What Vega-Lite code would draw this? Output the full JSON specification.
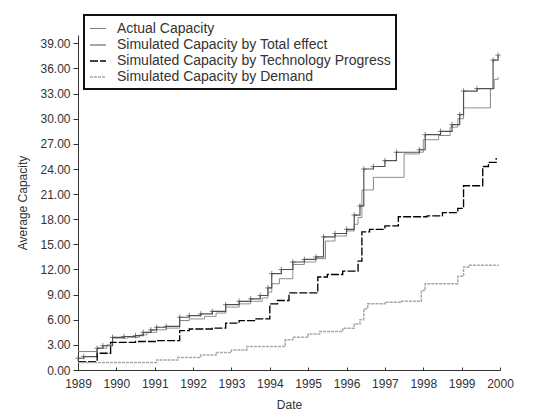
{
  "$schema": "https://vega.github.io/schema/vega-lite/v6.json",
  "width": 422,
  "height": 335,
  "autosize": "none",
  "padding": {"left": 78, "top": 35, "right": 33, "bottom": 50},
  "background": "white",
  "config": {
    "view": {"stroke": null},
    "font": "Liberation Sans",
    "axis": {
      "domainColor": "#333",
      "tickColor": "#333",
      "labelColor": "#333",
      "titleColor": "#333",
      "labelFont": "Liberation Sans",
      "titleFont": "Liberation Sans",
      "labelFontSize": 12,
      "titleFontSize": 12,
      "titleFontWeight": "normal",
      "grid": false,
      "tickSize": 5,
      "labelPadding": 3,
      "labelOverlap": false,
      "labelFlush": false
    },
    "legend": {
      "orient": "none",
      "legendX": 6,
      "legendY": -20,
      "strokeColor": "#111",
      "strokeWidth": 2,
      "padding": 5,
      "labelFont": "Liberation Sans",
      "labelFontSize": 14,
      "labelColor": "#333",
      "symbolType": "stroke",
      "symbolSize": 256,
      "rowPadding": 0,
      "labelOffset": 10,
      "labelLimit": 400
    }
  },
  "data": {
    "values": [
      {"series": "Actual Capacity", "year": 1989.0, "capacity": 2.2},
      {"series": "Actual Capacity", "year": 1989.5, "capacity": 2.6},
      {"series": "Actual Capacity", "year": 1989.75, "capacity": 3.0},
      {"series": "Actual Capacity", "year": 1989.9, "capacity": 3.8},
      {"series": "Actual Capacity", "year": 1990.3, "capacity": 3.9},
      {"series": "Actual Capacity", "year": 1990.6, "capacity": 4.2},
      {"series": "Actual Capacity", "year": 1990.8, "capacity": 4.5},
      {"series": "Actual Capacity", "year": 1991.05, "capacity": 4.8},
      {"series": "Actual Capacity", "year": 1991.3, "capacity": 5.0},
      {"series": "Actual Capacity", "year": 1991.65, "capacity": 5.9},
      {"series": "Actual Capacity", "year": 1991.9, "capacity": 6.1},
      {"series": "Actual Capacity", "year": 1992.3, "capacity": 6.4},
      {"series": "Actual Capacity", "year": 1992.6, "capacity": 6.8},
      {"series": "Actual Capacity", "year": 1992.85, "capacity": 7.5},
      {"series": "Actual Capacity", "year": 1993.2, "capacity": 7.9},
      {"series": "Actual Capacity", "year": 1993.5, "capacity": 8.2},
      {"series": "Actual Capacity", "year": 1993.8, "capacity": 8.6},
      {"series": "Actual Capacity", "year": 1993.95, "capacity": 9.3},
      {"series": "Actual Capacity", "year": 1994.05, "capacity": 10.3},
      {"series": "Actual Capacity", "year": 1994.25, "capacity": 10.9},
      {"series": "Actual Capacity", "year": 1994.6, "capacity": 12.6},
      {"series": "Actual Capacity", "year": 1994.9, "capacity": 12.9},
      {"series": "Actual Capacity", "year": 1995.2, "capacity": 13.3},
      {"series": "Actual Capacity", "year": 1995.45, "capacity": 15.4},
      {"series": "Actual Capacity", "year": 1995.7, "capacity": 16.0},
      {"series": "Actual Capacity", "year": 1996.0, "capacity": 16.6},
      {"series": "Actual Capacity", "year": 1996.2, "capacity": 17.4},
      {"series": "Actual Capacity", "year": 1996.3, "capacity": 18.2},
      {"series": "Actual Capacity", "year": 1996.4, "capacity": 21.5},
      {"series": "Actual Capacity", "year": 1996.7, "capacity": 23.0},
      {"series": "Actual Capacity", "year": 1997.5, "capacity": 25.8},
      {"series": "Actual Capacity", "year": 1997.9, "capacity": 26.0},
      {"series": "Actual Capacity", "year": 1998.0, "capacity": 27.5},
      {"series": "Actual Capacity", "year": 1998.4, "capacity": 28.0},
      {"series": "Actual Capacity", "year": 1998.7, "capacity": 29.0},
      {"series": "Actual Capacity", "year": 1998.9, "capacity": 30.0},
      {"series": "Actual Capacity", "year": 1999.05, "capacity": 31.3},
      {"series": "Actual Capacity", "year": 1999.75, "capacity": 33.6},
      {"series": "Actual Capacity", "year": 1999.85, "capacity": 34.7},
      {"series": "Actual Capacity", "year": 1999.95, "capacity": 35.0},

      {"series": "Simulated Capacity by Total effect", "year": 1989.0, "capacity": 1.4},
      {"series": "Simulated Capacity by Total effect", "year": 1989.15, "capacity": 1.6},
      {"series": "Simulated Capacity by Total effect", "year": 1989.5, "capacity": 2.6},
      {"series": "Simulated Capacity by Total effect", "year": 1989.65, "capacity": 2.9},
      {"series": "Simulated Capacity by Total effect", "year": 1989.9, "capacity": 3.9},
      {"series": "Simulated Capacity by Total effect", "year": 1990.2, "capacity": 4.0},
      {"series": "Simulated Capacity by Total effect", "year": 1990.5, "capacity": 4.1},
      {"series": "Simulated Capacity by Total effect", "year": 1990.7, "capacity": 4.5},
      {"series": "Simulated Capacity by Total effect", "year": 1990.9, "capacity": 4.8},
      {"series": "Simulated Capacity by Total effect", "year": 1991.05, "capacity": 5.1},
      {"series": "Simulated Capacity by Total effect", "year": 1991.3, "capacity": 5.2},
      {"series": "Simulated Capacity by Total effect", "year": 1991.65, "capacity": 6.3},
      {"series": "Simulated Capacity by Total effect", "year": 1991.9, "capacity": 6.5},
      {"series": "Simulated Capacity by Total effect", "year": 1992.2, "capacity": 6.7},
      {"series": "Simulated Capacity by Total effect", "year": 1992.5, "capacity": 7.0},
      {"series": "Simulated Capacity by Total effect", "year": 1992.85, "capacity": 7.8},
      {"series": "Simulated Capacity by Total effect", "year": 1993.2, "capacity": 8.2},
      {"series": "Simulated Capacity by Total effect", "year": 1993.5, "capacity": 8.5},
      {"series": "Simulated Capacity by Total effect", "year": 1993.75, "capacity": 8.9},
      {"series": "Simulated Capacity by Total effect", "year": 1993.95, "capacity": 9.8},
      {"series": "Simulated Capacity by Total effect", "year": 1994.05, "capacity": 11.5},
      {"series": "Simulated Capacity by Total effect", "year": 1994.3, "capacity": 12.0},
      {"series": "Simulated Capacity by Total effect", "year": 1994.6, "capacity": 12.9},
      {"series": "Simulated Capacity by Total effect", "year": 1994.9, "capacity": 13.2},
      {"series": "Simulated Capacity by Total effect", "year": 1995.2, "capacity": 13.5},
      {"series": "Simulated Capacity by Total effect", "year": 1995.4, "capacity": 15.9},
      {"series": "Simulated Capacity by Total effect", "year": 1995.7, "capacity": 16.3},
      {"series": "Simulated Capacity by Total effect", "year": 1996.0, "capacity": 16.8},
      {"series": "Simulated Capacity by Total effect", "year": 1996.2, "capacity": 18.5},
      {"series": "Simulated Capacity by Total effect", "year": 1996.35, "capacity": 19.6},
      {"series": "Simulated Capacity by Total effect", "year": 1996.45, "capacity": 24.0},
      {"series": "Simulated Capacity by Total effect", "year": 1996.7, "capacity": 24.3},
      {"series": "Simulated Capacity by Total effect", "year": 1997.0, "capacity": 25.0},
      {"series": "Simulated Capacity by Total effect", "year": 1997.3, "capacity": 26.0},
      {"series": "Simulated Capacity by Total effect", "year": 1997.9, "capacity": 26.3},
      {"series": "Simulated Capacity by Total effect", "year": 1998.05, "capacity": 28.1},
      {"series": "Simulated Capacity by Total effect", "year": 1998.45, "capacity": 28.5},
      {"series": "Simulated Capacity by Total effect", "year": 1998.75, "capacity": 29.3},
      {"series": "Simulated Capacity by Total effect", "year": 1998.95, "capacity": 30.5},
      {"series": "Simulated Capacity by Total effect", "year": 1999.05, "capacity": 33.3},
      {"series": "Simulated Capacity by Total effect", "year": 1999.4, "capacity": 33.6},
      {"series": "Simulated Capacity by Total effect", "year": 1999.82, "capacity": 37.0},
      {"series": "Simulated Capacity by Total effect", "year": 1999.95, "capacity": 37.6},

      {"series": "Simulated Capacity by Technology Progress", "year": 1989.0, "capacity": 1.0},
      {"series": "Simulated Capacity by Technology Progress", "year": 1989.5, "capacity": 2.0},
      {"series": "Simulated Capacity by Technology Progress", "year": 1989.85, "capacity": 3.3},
      {"series": "Simulated Capacity by Technology Progress", "year": 1990.5, "capacity": 3.4},
      {"series": "Simulated Capacity by Technology Progress", "year": 1991.05, "capacity": 3.5},
      {"series": "Simulated Capacity by Technology Progress", "year": 1991.65, "capacity": 4.7},
      {"series": "Simulated Capacity by Technology Progress", "year": 1991.9, "capacity": 4.9},
      {"series": "Simulated Capacity by Technology Progress", "year": 1992.5, "capacity": 5.0},
      {"series": "Simulated Capacity by Technology Progress", "year": 1992.85, "capacity": 5.6},
      {"series": "Simulated Capacity by Technology Progress", "year": 1993.2, "capacity": 5.9},
      {"series": "Simulated Capacity by Technology Progress", "year": 1993.6, "capacity": 6.1},
      {"series": "Simulated Capacity by Technology Progress", "year": 1994.0, "capacity": 7.9},
      {"series": "Simulated Capacity by Technology Progress", "year": 1994.2, "capacity": 8.3},
      {"series": "Simulated Capacity by Technology Progress", "year": 1994.5, "capacity": 9.2},
      {"series": "Simulated Capacity by Technology Progress", "year": 1995.25, "capacity": 11.1},
      {"series": "Simulated Capacity by Technology Progress", "year": 1995.5, "capacity": 11.4},
      {"series": "Simulated Capacity by Technology Progress", "year": 1995.9, "capacity": 11.8},
      {"series": "Simulated Capacity by Technology Progress", "year": 1996.3, "capacity": 13.0},
      {"series": "Simulated Capacity by Technology Progress", "year": 1996.4, "capacity": 16.5},
      {"series": "Simulated Capacity by Technology Progress", "year": 1996.6, "capacity": 16.8},
      {"series": "Simulated Capacity by Technology Progress", "year": 1997.0, "capacity": 17.2},
      {"series": "Simulated Capacity by Technology Progress", "year": 1997.35, "capacity": 18.3},
      {"series": "Simulated Capacity by Technology Progress", "year": 1998.1, "capacity": 18.4},
      {"series": "Simulated Capacity by Technology Progress", "year": 1998.5, "capacity": 18.8},
      {"series": "Simulated Capacity by Technology Progress", "year": 1998.9, "capacity": 19.3},
      {"series": "Simulated Capacity by Technology Progress", "year": 1999.05, "capacity": 22.0},
      {"series": "Simulated Capacity by Technology Progress", "year": 1999.55, "capacity": 24.3},
      {"series": "Simulated Capacity by Technology Progress", "year": 1999.7, "capacity": 24.8},
      {"series": "Simulated Capacity by Technology Progress", "year": 1999.9, "capacity": 25.3},

      {"series": "Simulated Capacity by Demand", "year": 1989.0, "capacity": 0.9},
      {"series": "Simulated Capacity by Demand", "year": 1991.05, "capacity": 1.2},
      {"series": "Simulated Capacity by Demand", "year": 1991.6, "capacity": 1.5},
      {"series": "Simulated Capacity by Demand", "year": 1992.2, "capacity": 1.8},
      {"series": "Simulated Capacity by Demand", "year": 1992.6, "capacity": 2.1},
      {"series": "Simulated Capacity by Demand", "year": 1993.0, "capacity": 2.4},
      {"series": "Simulated Capacity by Demand", "year": 1993.4, "capacity": 2.8},
      {"series": "Simulated Capacity by Demand", "year": 1994.4, "capacity": 3.6},
      {"series": "Simulated Capacity by Demand", "year": 1994.6, "capacity": 3.9},
      {"series": "Simulated Capacity by Demand", "year": 1995.0, "capacity": 4.3},
      {"series": "Simulated Capacity by Demand", "year": 1995.3, "capacity": 4.6},
      {"series": "Simulated Capacity by Demand", "year": 1995.9, "capacity": 5.0},
      {"series": "Simulated Capacity by Demand", "year": 1996.2, "capacity": 5.5},
      {"series": "Simulated Capacity by Demand", "year": 1996.35, "capacity": 6.0},
      {"series": "Simulated Capacity by Demand", "year": 1996.45, "capacity": 7.3},
      {"series": "Simulated Capacity by Demand", "year": 1996.55, "capacity": 7.9},
      {"series": "Simulated Capacity by Demand", "year": 1997.0, "capacity": 8.1},
      {"series": "Simulated Capacity by Demand", "year": 1997.4, "capacity": 8.2},
      {"series": "Simulated Capacity by Demand", "year": 1997.95, "capacity": 9.5},
      {"series": "Simulated Capacity by Demand", "year": 1998.05, "capacity": 10.3},
      {"series": "Simulated Capacity by Demand", "year": 1998.9, "capacity": 11.2},
      {"series": "Simulated Capacity by Demand", "year": 1999.05, "capacity": 12.3},
      {"series": "Simulated Capacity by Demand", "year": 1999.2, "capacity": 12.5},
      {"series": "Simulated Capacity by Demand", "year": 1999.95, "capacity": 12.6}
    ]
  },
  "encoding": {
    "x": {
      "field": "year",
      "type": "quantitative",
      "title": "Date",
      "scale": {"domain": [1989, 2000], "nice": false, "zero": false},
      "axis": {"values": [1989,1990,1991,1992,1993,1994,1995,1996,1997,1998,1999,2000], "format": "d", "tickSize": -3, "labelPadding": 11, "titlePadding": 10}
    },
    "y": {
      "field": "capacity",
      "type": "quantitative",
      "title": "Average Capacity",
      "scale": {"domain": [0, 40], "nice": false},
      "axis": {"values": [0,3,6,9,12,15,18,21,24,27,30,33,36,39], "format": ".2f", "titlePadding": 10}
    }
  },
  "layer": [
    {
      "mark": {"type": "line", "interpolate": "step-after"},
      "encoding": {
        "color": {
          "field": "series",
          "type": "nominal",
          "title": null,
          "scale": {
            "domain": ["Actual Capacity", "Simulated Capacity by Total effect", "Simulated Capacity by Technology Progress", "Simulated Capacity by Demand"],
            "range": ["#808080", "#505050", "#000000", "#a8a8a8"]
          }
        },
        "strokeDash": {
          "field": "series",
          "type": "nominal",
          "title": null,
          "scale": {
            "domain": ["Actual Capacity", "Simulated Capacity by Total effect", "Simulated Capacity by Technology Progress", "Simulated Capacity by Demand"],
            "range": [[1, 0], [1, 0], [8, 2], [3, 1]]
          }
        },
        "strokeWidth": {
          "field": "series",
          "type": "nominal",
          "title": null,
          "scale": {
            "domain": ["Actual Capacity", "Simulated Capacity by Total effect", "Simulated Capacity by Technology Progress", "Simulated Capacity by Demand"],
            "range": [1, 1.5, 3, 1]
          }
        }
      }
    },
    {
      "transform": [{"filter": "datum.series === 'Simulated Capacity by Total effect'"}],
      "mark": {"type": "point", "shape": "M-1,0H1M0,-1V1", "filled": false, "size": 30, "strokeWidth": 1, "color": "#505050"}
    }
  ]
}
